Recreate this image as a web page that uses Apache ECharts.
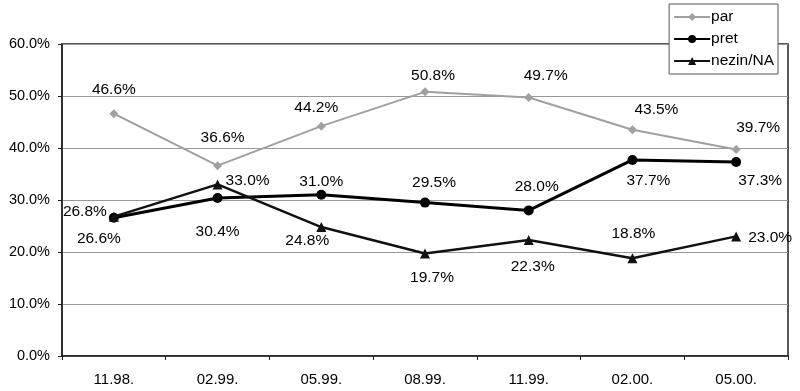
<!DOCTYPE html>
<html>
<head>
<meta charset="utf-8">
<script src="https://cdn.jsdelivr.net/npm/echarts@6/dist/echarts.min.js"></script>
<style>html,body{margin:0;padding:0;background:#fff}#c{width:800px;height:391px}</style>
</head>
<body>
<div id="c"></div>
<script>
var categories = ['11.98.', '02.99.', '05.99.', '08.99.', '11.99.', '02.00.', '05.00.'];
var parValues = [46.6, 36.6, 44.2, 50.8, 49.7, 43.5, 39.7];
var pretValues = [26.6, 30.4, 31.0, 29.5, 28.0, 37.7, 37.3];
var nezinValues = [26.8, 33.0, 24.8, 19.7, 22.3, 18.8, 23.0];
var yTicks = [0, 10, 20, 30, 40, 50, 60];

// label offsets (pixels) relative to each marker
var parOff = [[0,-24],[5,-28],[-5,-18],[8,-16],[17,-22],[24,-20],[22,-22]];
var pretOff = [[-15,21],[0,34],[0,-13],[9,-20],[8,-24],[16,21],[24,19]];
var nezinOff = [[-29,-5],[30,-4],[-14,14],[7,24],[4,27],[1,-25],[34,1]];

function mk(vals, offs) {
  return vals.map(function (v, i) {
    return { value: v, label: { offset: offs[i] } };
  });
}
var font = '"Liberation Sans", Arial, sans-serif';
var labelBase = { show: true, position: 'inside', color: '#000', fontSize: 15.5, fontFamily: font,
  formatter: function (p) { return p.value.toFixed(1) + '%'; } };

var chart = echarts.init(document.getElementById('c'));
chart.setOption({
  animation: false,
  backgroundColor: '#fff',
  grid: { left: 62, right: 12, top: 44, bottom: 35, show: true, borderColor: '#222', borderWidth: 1.5, backgroundColor: '#fff' },
  legend: {
    orient: 'vertical', right: 22, top: 4, itemWidth: 36, itemHeight: 10, itemGap: 6,
    backgroundColor: '#fff', borderColor: '#555', borderWidth: 1, padding: [5, 4, 5, 4],
    textStyle: { fontSize: 15.5, fontFamily: font, color: '#000', padding: [0, 0, 0, -4] },
    data: ['par', 'pret', 'nezin/NA']
  },
  xAxis: {
    type: 'category', data: categories, boundaryGap: true,
    axisLine: { lineStyle: { color: '#222', width: 1.5 } },
    axisTick: { show: true, length: 4, lineStyle: { color: '#222' } },
    axisLabel: { fontSize: 15, fontFamily: font, color: '#000', margin: 16 },
    splitLine: { show: false }
  },
  yAxis: {
    type: 'value', min: 0, max: 60, interval: 10,
    axisLine: { show: true, lineStyle: { color: '#222', width: 1.5 } },
    axisTick: { show: true, length: 4, lineStyle: { color: '#222' } },
    axisLabel: { fontSize: 14.5, fontFamily: font, color: '#000', margin: 12,
      formatter: function (v) { return yTicks.indexOf(v) >= 0 ? v.toFixed(1) + '%' : ''; } },
    splitLine: { show: true, lineStyle: { color: '#999', width: 1 } }
  },
  series: [
    { name: 'par', type: 'line', data: mk(parValues, parOff), symbol: 'diamond', symbolSize: 9,
      itemStyle: { color: '#a0a0a0' }, lineStyle: { color: '#a0a0a0', width: 2 }, label: labelBase, z: 2 },
    { name: 'pret', type: 'line', data: mk(pretValues, pretOff), symbol: 'circle', symbolSize: 10,
      itemStyle: { color: '#000' }, lineStyle: { color: '#000', width: 3 }, label: labelBase, z: 3 },
    { name: 'nezin/NA', type: 'line', data: mk(nezinValues, nezinOff), symbol: 'triangle', symbolSize: 10,
      itemStyle: { color: '#111' }, lineStyle: { color: '#111', width: 2.5 }, label: labelBase, z: 4 }
  ]
});
</script>
</body>
</html>
